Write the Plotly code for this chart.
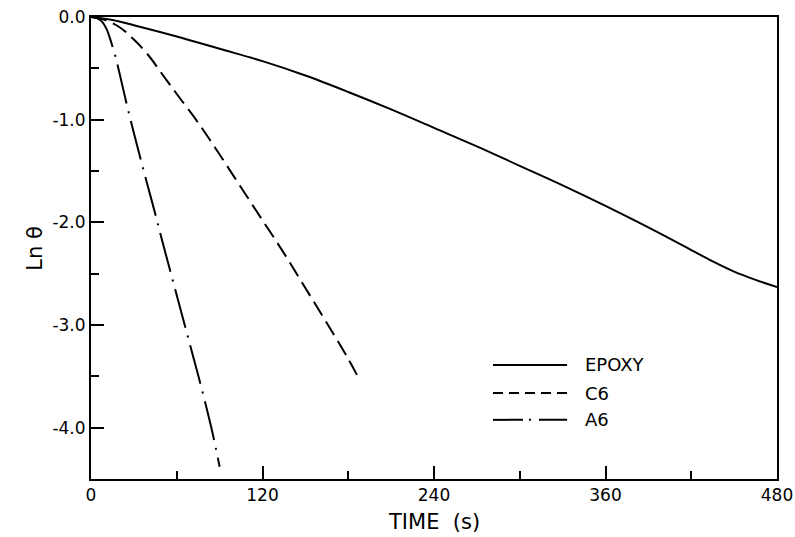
import plotly.graph_objects as go

# ---- data ----
epoxy_t = [0, 15, 30, 60, 90, 120, 150, 180, 210, 240, 270, 300, 330, 360, 390, 420, 435, 450, 465, 480]
epoxy_L = [0, -0.03, -0.08, -0.19, -0.31, -0.43, -0.57, -0.73, -0.90, -1.08, -1.26, -1.45, -1.64, -1.84, -2.05, -2.27, -2.38, -2.48, -2.56, -2.63]

c6_t = [0, 5, 10, 20, 30, 40, 50, 60, 75, 90, 105, 120, 135, 150, 165, 180, 187]
c6_L = [0, -0.01, -0.03, -0.10, -0.22, -0.37, -0.56, -0.75, -1.03, -1.34, -1.66, -1.98, -2.30, -2.64, -2.98, -3.33, -3.51]

a6_t = [0, 4, 8, 11, 14, 17, 20, 25, 30, 35, 40, 45, 50, 55, 60, 65, 70, 75, 80, 85, 90]
a6_L = [0, -0.01, -0.05, -0.12, -0.24, -0.38, -0.55, -0.85, -1.13, -1.40, -1.66, -1.92, -2.19, -2.45, -2.71, -2.97, -3.23, -3.49, -3.76, -4.05, -4.38]

x_ticks = [0, 120, 240, 360, 480]
x_ticklabels = ["0", "120", "240", "360", "480"]
y_ticks = [0, -1, -2, -3, -4]
y_ticklabels = ["0.0", "-1.0", "-2.0", "-3.0", "-4.0"]

series_names = ["EPOXY", "C6", "A6"]
FONT = "DejaVu Sans"

fig = go.Figure()
fig.add_trace(go.Scatter(x=epoxy_t, y=epoxy_L, mode="lines", name="EPOXY",
                         line=dict(color="black", width=2, shape="spline", dash="solid")))
fig.add_trace(go.Scatter(x=c6_t, y=c6_L, mode="lines", name="C6",
                         line=dict(color="black", width=2, shape="spline", dash="16px,7px")))
fig.add_trace(go.Scatter(x=a6_t, y=a6_L, mode="lines", name="A6",
                         line=dict(color="black", width=2, shape="spline", dash="40px,8px,2px,8px")))

# manual legend (long sample lines)
leg_y = [0.247, 0.186, 0.128]
leg_dash = ["solid", "10px,6px", "30px,6px,2px,8px"]
shapes = []
annotations = []
for name, yy, dsh in zip(series_names, leg_y, leg_dash):
    shapes.append(dict(type="line", xref="paper", yref="paper", x0=0.586, x1=0.694, y0=yy, y1=yy,
                       line=dict(color="black", width=2, dash=dsh)))
    annotations.append(dict(xref="paper", yref="paper", x=0.717, y=yy, text=name, showarrow=False,
                            xanchor="left", yanchor="middle", font=dict(family=FONT, size=18, color="black")))

annotations.append(dict(xref="paper", yref="paper", x=0.5, y=-0.062, text="TIME  (s)", showarrow=False,
                        xanchor="center", yanchor="top", font=dict(family=FONT, size=21, color="black")))
annotations.append(dict(xref="paper", yref="paper", x=-0.082, y=0.5, text="Ln θ", showarrow=False,
                        textangle=-90, xanchor="center", yanchor="middle",
                        font=dict(family=FONT, size=21, color="black")))

fig.update_layout(
    width=795, height=537,
    margin=dict(l=91, r=18, t=17, b=58, autoexpand=False),
    paper_bgcolor="white", plot_bgcolor="white",
    showlegend=False,
    shapes=shapes, annotations=annotations,
    font=dict(family=FONT, size=17, color="black"),
)
fig.update_xaxes(range=[0, 480], showgrid=False, zeroline=False, automargin=False,
                 showline=True, linecolor="black", linewidth=2, mirror=True,
                 tickvals=x_ticks, ticktext=x_ticklabels, ticklabeloverflow="allow",
                 ticks="inside", ticklen=13, tickwidth=2, tickcolor="black",
                 minor=dict(dtick=60, tick0=0, ticks="inside", ticklen=8, tickwidth=2, tickcolor="black"),
                 tickfont=dict(family=FONT, size=17))
fig.update_yaxes(range=[-4.5, 0], showgrid=False, zeroline=False, automargin=False,
                 showline=True, linecolor="black", linewidth=2, mirror=True,
                 tickvals=y_ticks, ticktext=y_ticklabels, ticklabeloverflow="allow",
                 ticks="inside", ticklen=13, tickwidth=2, tickcolor="black",
                 minor=dict(dtick=0.5, tick0=0, ticks="inside", ticklen=8, tickwidth=2, tickcolor="black"),
                 tickfont=dict(family=FONT, size=17))

# remove the browser's default 8px body margin so the figure sits at the page origin
fig.write_html("out.html", config={"displayModeBar": False},
               post_script="document.body.style.margin='0';")
